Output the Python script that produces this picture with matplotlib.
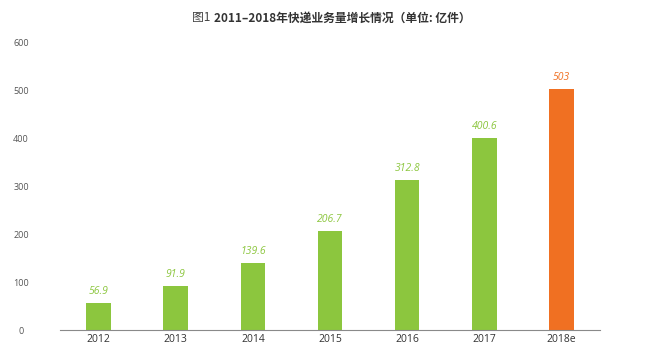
import matplotlib.pyplot as plt

plt.rcParams['font.family'] = ['Noto Sans CJK SC', 'DejaVu Sans']

years = ['2012', '2013', '2014', '2015', '2016', '2017', '2018e']
volume = [56.9, 91.9, 139.6, 206.7, 312.8, 400.6, 503]
labels = ['56.9', '91.9', '139.6', '206.7', '312.8', '400.6', '503']
yticks = [0, 100, 200, 300, 400, 500, 600]

green = '#8cc63e'
orange = '#f07022'
colors = [green] * 6 + [orange]

fig = plt.figure(figsize=(6.5, 3.57), dpi=100)
ax = fig.add_axes([60/650, 1 - 330/357, 540/650, 287/357])

x = range(len(years))
ax.bar(x, volume, width=0.32, color=colors)
for i, v in enumerate(volume):
    ax.text(i, v + 13, labels[i], ha='center', va='bottom', fontsize=7.5,
            style='italic', color=colors[i], family='Open Sans')

ax.set_xlim(-0.5, 6.5)
ax.set_ylim(0, 600)
ax.set_xticks(list(x))
ax.set_xticklabels(years, fontsize=7.5, color='#333333', family='Open Sans')
ax.set_yticks(yticks)
ax.set_yticklabels([str(t) for t in yticks], fontsize=6.5, color='#555555',
                   family='Open Sans', ha='center')
ax.tick_params(axis='y', length=0, pad=28)
ax.tick_params(axis='x', length=0, pad=3)
for s in ['top', 'right', 'left']:
    ax.spines[s].set_visible(False)
ax.spines['bottom'].set_color('#8a8a8a')
ax.spines['bottom'].set_linewidth(0.8)

fig.text(210/650, 1 - 18/357, '图1', fontsize=8.5, color='#444444', va='center', ha='right')
fig.text(214/650, 1 - 18/357, '2011–2018年快递业务量增长情况（单位: 亿件）', fontsize=8.5,
         fontweight='bold', color='#333333', va='center', ha='left')

fig.savefig('out.png', dpi=100, facecolor='white')
